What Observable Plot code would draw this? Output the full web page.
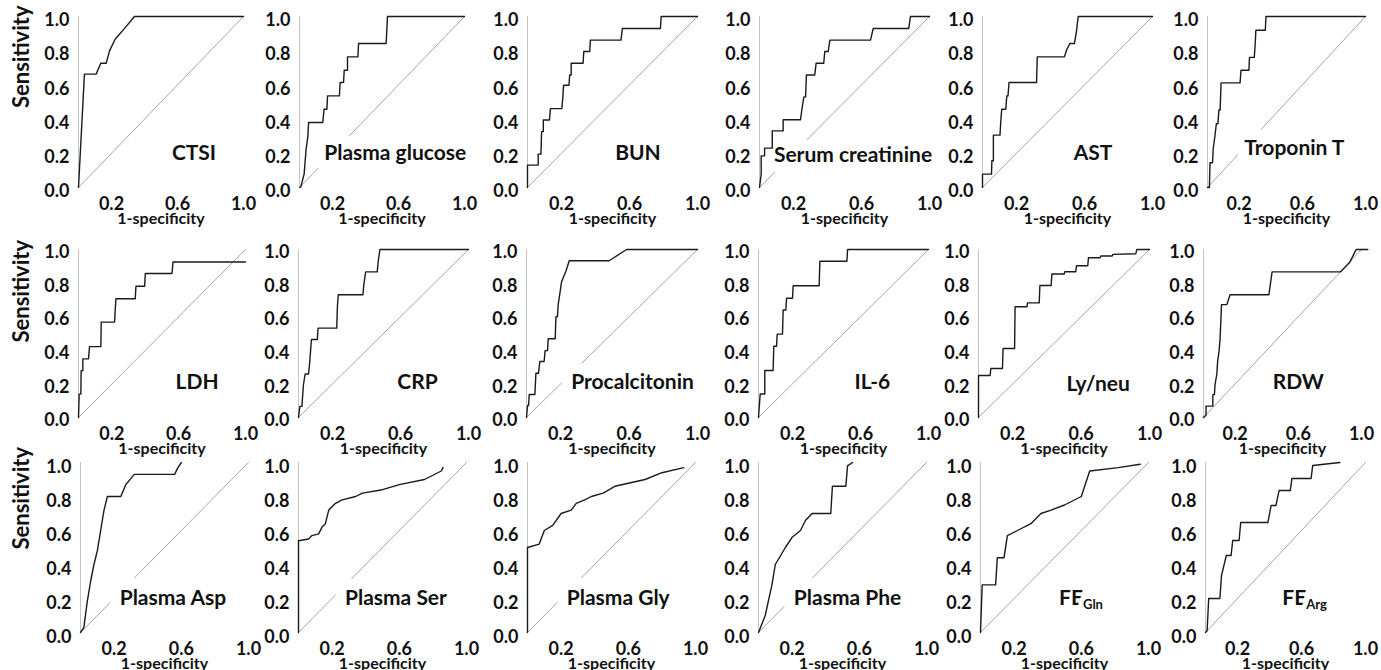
<!DOCTYPE html>
<html><head><meta charset="utf-8">
<script src="https://cdn.jsdelivr.net/npm/d3@7"></script>
<script src="https://cdn.jsdelivr.net/npm/@observablehq/plot@0.6"></script>
<style>
body{margin:0;background:#fff;}
#chart{position:relative;width:1381px;height:670px;overflow:hidden;background:#fff;}
.panel{position:absolute;}
.panel svg{max-width:none;overflow:visible;}
</style></head><body><div id="chart"></div>
<script>
// ---- data (1-specificity, sensitivity) ----
const xTicks = [0.2, 0.6, 1.0];
const yTicks = [0, 0.2, 0.4, 0.6, 0.8, 1.0];
const chance = [0, 1];

const CTSI = [[0,0],[0.036,0.663],[0.107,0.663],[0.135,0.727],[0.168,0.727],[0.188,0.799],[0.222,0.867],[0.283,0.935],[0.339,1],[1,1]];
const GLUCOSE = [[0,0],[0.008,0.004],[0.028,0.078],[0.04,0.224],[0.051,0.302],[0.055,0.38],[0.141,0.38],[0.149,0.458],[0.166,0.458],[0.17,0.536],[0.242,0.536],[0.246,0.614],[0.267,0.614],[0.271,0.686],[0.291,0.686],[0.291,0.764],[0.354,0.764],[0.358,0.842],[0.525,0.842],[0.529,0.916],[0.533,1],[1,1]];
const BUN = [[0,0],[0,0.131],[0.063,0.131],[0.063,0.195],[0.079,0.195],[0.083,0.327],[0.093,0.327],[0.093,0.395],[0.129,0.395],[0.135,0.461],[0.202,0.461],[0.208,0.53],[0.212,0.598],[0.244,0.598],[0.248,0.658],[0.257,0.658],[0.257,0.727],[0.327,0.727],[0.331,0.795],[0.366,0.795],[0.37,0.862],[0.55,0.862],[0.558,0.93],[0.782,0.93],[0.786,1],[1,1]];
const CREATININE = [[0,0],[0.01,0.078],[0.01,0.185],[0.03,0.185],[0.03,0.23],[0.075,0.23],[0.075,0.331],[0.139,0.331],[0.139,0.396],[0.241,0.396],[0.251,0.468],[0.261,0.53],[0.271,0.53],[0.276,0.658],[0.325,0.658],[0.333,0.727],[0.378,0.727],[0.384,0.795],[0.404,0.795],[0.414,0.862],[0.653,0.862],[0.669,0.93],[0.878,0.93],[0.888,1],[1,1]];
const AST = [[0,0],[0,0.078],[0.053,0.078],[0.055,0.156],[0.064,0.156],[0.064,0.306],[0.103,0.306],[0.107,0.38],[0.113,0.458],[0.137,0.458],[0.143,0.536],[0.15,0.536],[0.156,0.614],[0.318,0.614],[0.322,0.764],[0.482,0.764],[0.494,0.803],[0.514,0.842],[0.541,0.842],[0.553,0.916],[0.563,1],[1,1]];
const TROPONIN = [[0,0],[0.012,0],[0.016,0.145],[0.032,0.145],[0.036,0.225],[0.046,0.294],[0.056,0.373],[0.066,0.373],[0.072,0.453],[0.08,0.453],[0.086,0.612],[0.206,0.612],[0.212,0.686],[0.262,0.686],[0.266,0.761],[0.296,0.761],[0.302,0.841],[0.306,0.92],[0.366,0.92],[0.37,1],[1,1]];
const LDH = [[0,0],[0.004,0.139],[0.014,0.139],[0.016,0.279],[0.026,0.279],[0.026,0.349],[0.06,0.349],[0.066,0.422],[0.134,0.422],[0.136,0.568],[0.216,0.568],[0.22,0.641],[0.224,0.707],[0.34,0.707],[0.344,0.781],[0.396,0.781],[0.4,0.857],[0.56,0.857],[0.566,0.926],[1,0.926]];
const CRP = [[0,0],[0.008,0.066],[0.02,0.066],[0.029,0.195],[0.039,0.259],[0.059,0.259],[0.066,0.329],[0.076,0.464],[0.111,0.464],[0.115,0.532],[0.225,0.532],[0.229,0.663],[0.234,0.731],[0.379,0.731],[0.385,0.797],[0.395,0.867],[0.463,0.867],[0.469,0.93],[0.479,1],[1,1]];
const PCT = [[0,0],[0.006,0.071],[0.012,0.071],[0.016,0.137],[0.049,0.137],[0.055,0.263],[0.07,0.263],[0.078,0.333],[0.103,0.333],[0.109,0.398],[0.123,0.398],[0.127,0.469],[0.168,0.469],[0.172,0.6],[0.181,0.6],[0.185,0.671],[0.195,0.737],[0.205,0.808],[0.23,0.869],[0.25,0.933],[0.483,0.933],[0.585,1],[1,1]];
const IL6 = [[0,0],[0.01,0.14],[0.037,0.14],[0.037,0.28],[0.086,0.28],[0.09,0.424],[0.106,0.424],[0.11,0.496],[0.141,0.496],[0.145,0.64],[0.161,0.64],[0.165,0.71],[0.2,0.71],[0.204,0.784],[0.357,0.784],[0.361,0.93],[0.52,0.93],[0.524,1],[1,1]];
const LYNEU = [[0,0],[0,0.25],[0.068,0.25],[0.072,0.292],[0.14,0.292],[0.144,0.411],[0.211,0.411],[0.214,0.659],[0.283,0.659],[0.287,0.682],[0.355,0.682],[0.359,0.786],[0.425,0.786],[0.429,0.854],[0.501,0.854],[0.505,0.868],[0.569,0.868],[0.573,0.903],[0.639,0.903],[0.643,0.951],[0.711,0.951],[0.715,0.961],[0.782,0.961],[0.786,0.971],[0.92,0.975],[0.926,1],[1,1]];
const RDW = [[0,0],[0.016,0.014],[0.016,0.068],[0.059,0.068],[0.059,0.136],[0.069,0.136],[0.073,0.195],[0.085,0.263],[0.089,0.331],[0.099,0.4],[0.105,0.468],[0.108,0.536],[0.114,0.672],[0.148,0.672],[0.168,0.731],[0.414,0.731],[0.434,0.867],[0.868,0.867],[0.927,0.926],[0.966,1],[1.04,1]];
const ASP = [[0,0],[0.02,0.03],[0.04,0.18],[0.06,0.3],[0.08,0.4],[0.1,0.48],[0.12,0.6],[0.14,0.72],[0.16,0.8],[0.24,0.8],[0.27,0.87],[0.32,0.93],[0.56,0.93],[0.58,0.97],[0.6,1]];
const SER = [[0,0],[0,0.54],[0.06,0.55],[0.08,0.57],[0.12,0.58],[0.14,0.62],[0.16,0.64],[0.18,0.72],[0.22,0.76],[0.26,0.78],[0.34,0.8],[0.38,0.82],[0.5,0.84],[0.6,0.87],[0.75,0.9],[0.85,0.95],[0.86,0.97]];
const GLY = [[0,0],[0,0.5],[0.07,0.52],[0.1,0.6],[0.15,0.63],[0.2,0.7],[0.26,0.72],[0.29,0.76],[0.34,0.78],[0.38,0.8],[0.45,0.82],[0.52,0.86],[0.7,0.9],[0.8,0.94],[0.93,0.97]];
const PHE = [[0,0],[0.04,0.1],[0.06,0.19],[0.08,0.28],[0.1,0.4],[0.13,0.45],[0.16,0.5],[0.2,0.56],[0.25,0.6],[0.28,0.66],[0.32,0.7],[0.43,0.7],[0.44,0.86],[0.52,0.86],[0.53,0.98],[0.56,1]];
const GLN = [[0,0],[0.01,0.28],[0.09,0.28],[0.1,0.44],[0.14,0.44],[0.16,0.57],[0.22,0.6],[0.3,0.64],[0.36,0.7],[0.42,0.72],[0.5,0.75],[0.6,0.8],[0.65,0.95],[0.82,0.97],[0.95,0.99]];
const ARG = [[0,0],[0.01,0.01],[0.02,0.2],[0.09,0.2],[0.1,0.335],[0.13,0.453],[0.16,0.453],[0.17,0.541],[0.21,0.541],[0.22,0.647],[0.39,0.647],[0.41,0.747],[0.44,0.747],[0.46,0.835],[0.53,0.835],[0.54,0.906],[0.66,0.906],[0.67,0.982],[0.84,1]];

const names = ["CTSI","Plasma glucose","BUN","Serum creatinine","AST","Troponin T",
               "LDH","CRP","Procalcitonin","IL-6","Ly/neu","RDW",
               "Plasma Asp","Plasma Ser","Plasma Gly","Plasma Phe","FE","FE"];
const subscripts = {16: "Gln", 17: "Arg"};
const curves = [CTSI,GLUCOSE,BUN,CREATININE,AST,TROPONIN,LDH,CRP,PCT,IL6,LYNEU,RDW,ASP,SER,GLY,PHE,GLN,ARG];

// ---- layout ----
const rowsLayout = [
  {top:16,  h:171, left:[78,299,527,759,982,1207], w:[165,165,170,170,170,158], ydy:4},
  {top:249, h:168, left:[78,298,526,758,978,1203], w:[167,170,171,170,171,158], ydy:3},
  {top:462, h:170, left:[80,298,527,758,980,1205], w:[168,168,168,168,168,160], ydy:5}
];
const labelPos = [[0.70,0.20],[0.58,0.20],[0.65,0.20],[0.55,0.19],[0.65,0.20],[0.55,0.23],
                  [0.71,0.21],[0.70,0.21],[0.62,0.21],[0.67,0.21],[0.70,0.20],[0.60,0.21],
                  [0.55,0.20],[0.58,0.20],[0.54,0.20],[0.53,0.20],[0.61,0.20],[0.63,0.20]];
const sensDy = [6, 9, 2];
const mL = 72, mR = 16, mT = 8, mB = 46;
const font = "Lato, 'Open Sans', sans-serif";

const chart = document.getElementById("chart");
curves.forEach((data, i) => {
  const r = Math.floor(i / 6), c = i % 6;
  const R = rowsLayout[r];
  const fw = R.w[c], fh = R.h;
  const [lx, ly] = labelPos[i];
  const halo = {stroke: "white", strokeWidth: 22, strokeLinejoin: "round"};
  const marks = [
    Plot.ruleX([0], {stroke: "#c4c4c4", strokeWidth: 1}),
    Plot.line(chance, {x: d => d, y: d => d, stroke: "#9a9a9a", strokeWidth: 0.9}),
  ];
  if (subscripts[i]) {
    marks.push(Plot.text([names[i]], {x: () => lx, y: () => ly, text: d => d, textAnchor: "end", fontSize: 21, fontWeight: "bold", fill: "#111", ...halo}));
    marks.push(Plot.text([subscripts[i]], {x: () => lx, y: () => ly, text: d => d, textAnchor: "start", dy: 6, fontSize: 13, fontWeight: "bold", fill: "#111", stroke: "white", strokeWidth: 10}));
  } else {
    marks.push(Plot.text([names[i]], {x: () => lx, y: () => ly, text: d => d, fontSize: 21, fontWeight: "bold", fill: "#111", ...halo}));
  }
  marks.push(
    Plot.line(data, {x: d => d[0], y: d => d[1], stroke: "#1a1a1a", strokeWidth: 1.4}),
    Plot.axisY({ticks: yTicks, tickFormat: d3.format(".1f"), tickSize: 0, tickPadding: 9, label: null, fontSize: 18, dy: R.ydy}),
    Plot.axisX({ticks: xTicks, tickFormat: d3.format(".1f"), tickSize: 0, tickPadding: 10, label: null, fontSize: 18}),
    Plot.text(["1-specificity"], {frameAnchor: "bottom", text: d => d, dy: 36, fontSize: 16, fontWeight: "bold", fill: "#111"})
  );
  if (c === 0) {
    marks.push(Plot.text(["Sensitivity"], {frameAnchor: "left", text: d => d, rotate: -90, dx: -(R.left[0] - 21), dy: sensDy[r], fontSize: 22, fontWeight: "bold", fill: "#111"}));
  }
  const svg = Plot.plot({
    width: mL + fw + mR,
    height: mT + fh + mB,
    marginLeft: mL, marginRight: mR, marginTop: mT, marginBottom: mB,
    x: {domain: [0, 1]},
    y: {domain: [0, 1]},
    style: {fontFamily: font, fontWeight: "bold", color: "#111", background: "transparent", overflow: "visible"},
    marks
  });
  const div = document.createElement("div");
  div.className = "panel";
  div.style.left = (R.left[c] - mL) + "px";
  div.style.top = (R.top - mT) + "px";
  div.style.width = (mL + fw + mR) + "px";
  div.appendChild(svg);
  chart.appendChild(div);
});
</script></body></html>
